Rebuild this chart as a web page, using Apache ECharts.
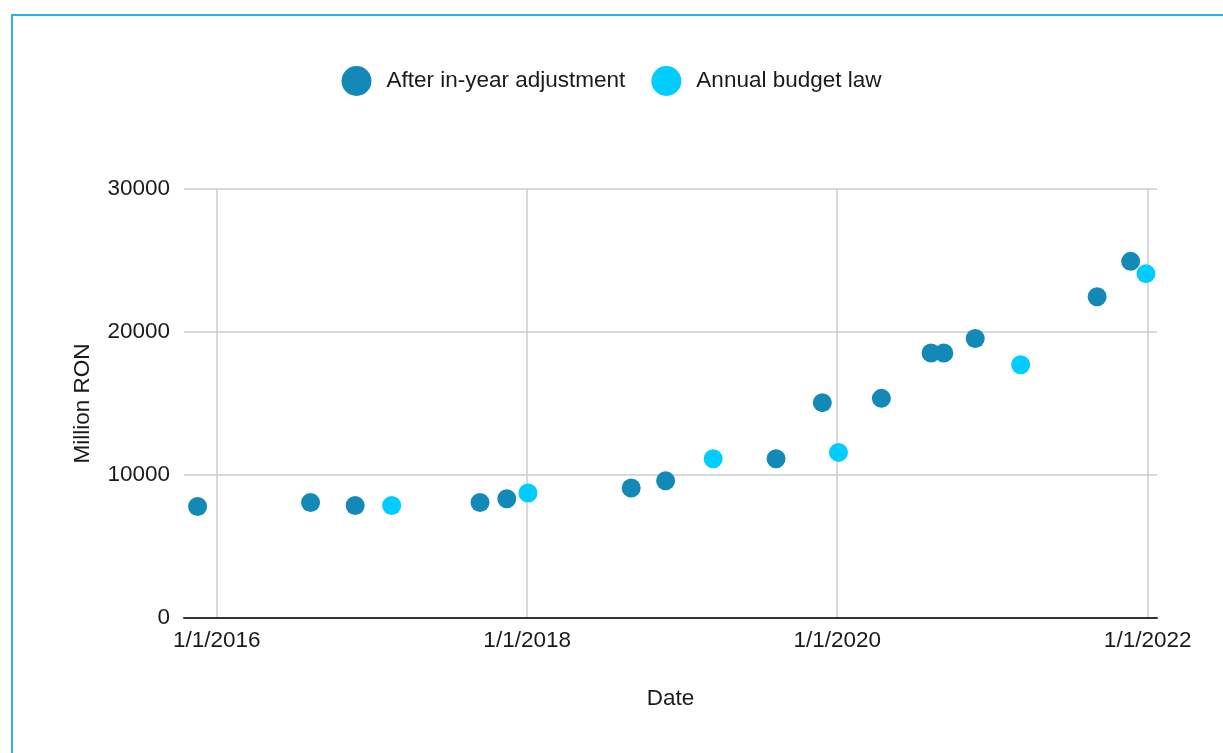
<!DOCTYPE html>
<html>
<head>
<meta charset="utf-8">
<script src="https://cdn.jsdelivr.net/npm/echarts@6/dist/echarts.min.js"></script>
<style>
  html, body { margin: 0; padding: 0; background: #fff; }
  #chart { width: 1223px; height: 753px; }
  #frame {
    position: absolute; left: 11px; top: 14px; right: -5px; bottom: -5px;
    border-top: 2px solid #2ab1ee; border-left: 2px solid #2ab1ee;
    pointer-events: none;
  }
</style>
</head>
<body>
<div id="chart"></div>
<div id="frame"></div>
<script>
const seriesNames = ['After in-year adjustment', 'Annual budget law'];
const colors = ['#1389b8', '#00ccff'];

const adjustedDates = ['2015-11-17', '2016-08-09', '2016-11-22', '2017-09-12', '2017-11-14',
  '2018-09-03', '2018-11-23', '2019-08-10', '2019-11-27', '2020-04-14',
  '2020-08-09', '2020-09-08', '2020-11-21', '2021-09-04', '2021-11-22'];
const adjustedValues = [7800, 8080, 7870, 8080, 8340, 9090, 9600, 11140, 15060, 15360,
  18530, 18530, 19550, 22470, 24940];

const lawDates = ['2017-02-16', '2018-01-03', '2019-03-15', '2020-01-04', '2021-03-08', '2021-12-28'];
const lawValues = [7870, 8740, 11140, 11580, 17710, 24080];

const xTicks = ['2016-01-01', '2018-01-01', '2020-01-01', '2022-01-01'];
const xMin = '2015-10-16';
const xMax = '2022-01-23';

const ts = s => { const p = s.split('-').map(Number); return Date.UTC(p[0], p[1] - 1, p[2]); };
const pairs = (d, v) => d.map((x, i) => [ts(x), v[i]]);
const fmtDate = v => { const d = new Date(v); return (d.getUTCMonth() + 1) + '/' + d.getUTCDate() + '/' + d.getUTCFullYear(); };

const font = "'Liberation Sans', Arial, sans-serif";
const fs = 22.5;
const txt = '#1a1a1a';
const chart = echarts.init(document.getElementById('chart'));

chart.setOption({
  animation: false,
  color: colors,
  textStyle: { fontFamily: font },
  legend: {
    top: 61,
    left: 'center',
    icon: 'circle',
    itemWidth: 30,
    itemHeight: 30,
    itemGap: 26,
    itemStyle: { opacity: 1 },
    textStyle: { fontSize: fs, color: txt, fontFamily: font, padding: [0, 0, 0, 10] }
  },
  grid: { left: 184, right: 66, top: 189, bottom: 135 },
  xAxis: {
    // timestamps on a value axis, labelled only at the two-year marks
    type: 'value',
    min: ts(xMin),
    max: ts(xMax),
    name: 'Date',
    nameLocation: 'middle',
    nameGap: 69,
    nameTextStyle: { fontSize: fs, color: txt },
    axisLine: { lineStyle: { color: '#333', width: 2 } },
    axisTick: { show: false, customValues: xTicks.map(ts) },
    axisLabel: {
      customValues: xTicks.map(ts),
      formatter: v => fmtDate(v),
      fontSize: fs, color: txt, margin: 11
    },
    splitLine: { show: true, lineStyle: { color: '#cccccc', width: 1.5 } }
  },
  yAxis: {
    type: 'value',
    min: 0,
    max: 30000,
    interval: 10000,
    name: 'Million RON',
    nameLocation: 'middle',
    nameGap: 90,
    nameTextStyle: { fontSize: fs, color: txt },
    axisLine: { show: false },
    axisTick: { show: false },
    axisLabel: { fontSize: fs, color: txt, margin: 14, formatter: v => String(v) },
    splitLine: { lineStyle: { color: '#cccccc', width: 1.5 } }
  },
  series: [
    {
      name: seriesNames[0],
      type: 'scatter',
      symbolSize: 19,
      itemStyle: { opacity: 1 },
      data: pairs(adjustedDates, adjustedValues)
    },
    {
      name: seriesNames[1],
      type: 'scatter',
      symbolSize: 19,
      itemStyle: { opacity: 1 },
      data: pairs(lawDates, lawValues)
    }
  ]
});
</script>
</body>
</html>
